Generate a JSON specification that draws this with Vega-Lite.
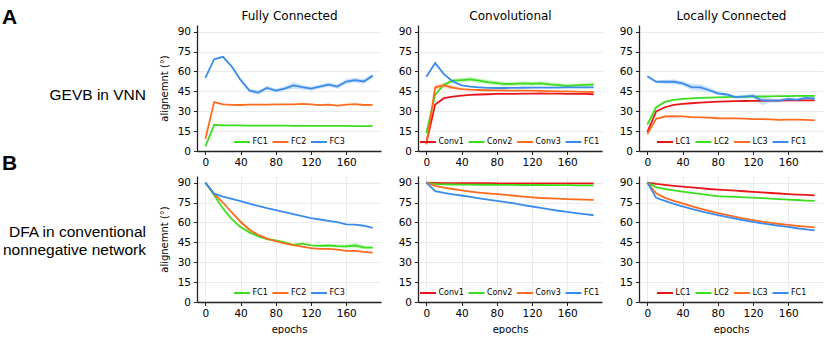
{
"$schema": "https://vega.github.io/schema/vega-lite/v6.json",
"background": "white",
"padding": {"left": 0, "top": 6, "right": 0, "bottom": 0},
"datasets": {
"aFC": [
{"e":0,"FC1":3.5,"FC2":9,"FC3":55.2},{"e":10,"FC1":19.7,"FC2":36.9,"FC3":69.2},{"e":20,"FC1":19.4,"FC2":35.1,"FC3":71},{"e":30,"FC1":19.3,"FC2":34.8,"FC3":63.7},{"e":40,"FC1":19.3,"FC2":34.7,"FC3":53.6},{"e":50,"FC1":19.2,"FC2":35,"FC3":45.6},{"e":60,"FC1":19.2,"FC2":35,"FC3":44.1},{"e":70,"FC1":19.2,"FC2":35,"FC3":47.6},{"e":80,"FC1":19.1,"FC2":35.1,"FC3":45.6},{"e":90,"FC1":19.1,"FC2":35.1,"FC3":47.1},{"e":100,"FC1":19,"FC2":35.1,"FC3":49.4},{"e":110,"FC1":19,"FC2":35.6,"FC3":48.1},{"e":120,"FC1":19,"FC2":35.2,"FC3":47.1},{"e":130,"FC1":18.9,"FC2":34.6,"FC3":48.6},{"e":140,"FC1":18.9,"FC2":34.9,"FC3":50.1},{"e":150,"FC1":18.9,"FC2":34.2,"FC3":48.6},{"e":160,"FC1":18.9,"FC2":34.9,"FC3":52.4},{"e":170,"FC1":18.8,"FC2":35.3,"FC3":53.4},{"e":180,"FC1":18.8,"FC2":34.7,"FC3":52.4},{"e":190,"FC1":18.8,"FC2":34.8,"FC3":56.7}],
"aFCb": [
{"e":0,"s":"FC3","lo":54.5,"hi":56},{"e":10,"s":"FC3","lo":68.5,"hi":70},{"e":20,"s":"FC3","lo":70.2,"hi":71.8},{"e":30,"s":"FC3","lo":62.8,"hi":64.6},{"e":40,"s":"FC3","lo":52.5,"hi":54.8},{"e":50,"s":"FC3","lo":44,"hi":47.2},{"e":60,"s":"FC3","lo":42.4,"hi":45.8},{"e":70,"s":"FC3","lo":46,"hi":49.2},{"e":80,"s":"FC3","lo":44.2,"hi":47},{"e":90,"s":"FC3","lo":45.5,"hi":48.7},{"e":100,"s":"FC3","lo":47,"hi":51.8},{"e":110,"s":"FC3","lo":46.2,"hi":50},{"e":120,"s":"FC3","lo":45.5,"hi":48.7},{"e":130,"s":"FC3","lo":47,"hi":50.2},{"e":140,"s":"FC3","lo":48.4,"hi":51.8},{"e":150,"s":"FC3","lo":47,"hi":50.2},{"e":160,"s":"FC3","lo":50.6,"hi":54.2},{"e":170,"s":"FC3","lo":51.6,"hi":55.2},{"e":180,"s":"FC3","lo":50.6,"hi":54.2},{"e":190,"s":"FC3","lo":55,"hi":58.4}],
"aConv": [
{"e":0,"Conv1":6,"Conv2":13.5,"Conv3":5,"FC1":56},{"e":10,"Conv1":35,"Conv2":42.5,"Conv3":48,"FC1":66.3},{"e":20,"Conv1":39.8,"Conv2":50,"Conv3":49.5,"FC1":58},{"e":30,"Conv1":41,"Conv2":53,"Conv3":47.8,"FC1":52.5},{"e":40,"Conv1":41.8,"Conv2":53.5,"Conv3":46.7,"FC1":49.5},{"e":50,"Conv1":42.3,"Conv2":54,"Conv3":46.2,"FC1":48.5},{"e":60,"Conv1":42.6,"Conv2":53,"Conv3":46,"FC1":48},{"e":70,"Conv1":42.8,"Conv2":52,"Conv3":45.8,"FC1":47.6},{"e":80,"Conv1":43,"Conv2":51.2,"Conv3":45.7,"FC1":47.5},{"e":90,"Conv1":43,"Conv2":50.5,"Conv3":45.6,"FC1":47.5},{"e":100,"Conv1":43,"Conv2":50.6,"Conv3":45.5,"FC1":47.6},{"e":110,"Conv1":43.2,"Conv2":51,"Conv3":45.5,"FC1":47.7},{"e":120,"Conv1":43.3,"Conv2":50.7,"Conv3":45.5,"FC1":47.8},{"e":130,"Conv1":43.5,"Conv2":51,"Conv3":45.3,"FC1":47.8},{"e":140,"Conv1":43.3,"Conv2":50.2,"Conv3":45.2,"FC1":47.8},{"e":150,"Conv1":43.2,"Conv2":49.6,"Conv3":45,"FC1":47.8},{"e":160,"Conv1":43.1,"Conv2":49,"Conv3":45,"FC1":47.9},{"e":170,"Conv1":43,"Conv2":49.5,"Conv3":44.8,"FC1":48},{"e":180,"Conv1":43,"Conv2":49.8,"Conv3":44.6,"FC1":48},{"e":190,"Conv1":42.8,"Conv2":50,"Conv3":44.5,"FC1":48}],
"aConvb": [
{"e":20,"s":"Conv2","lo":48.8,"hi":51.2},{"e":30,"s":"Conv2","lo":51.5,"hi":54.5},{"e":40,"s":"Conv2","lo":51.8,"hi":55.2},{"e":50,"s":"Conv2","lo":52.2,"hi":55.8},{"e":60,"s":"Conv2","lo":51.3,"hi":54.7},{"e":70,"s":"Conv2","lo":50.3,"hi":53.7},{"e":80,"s":"Conv2","lo":49.6,"hi":52.8},{"e":90,"s":"Conv2","lo":48.9,"hi":52.1},{"e":100,"s":"Conv2","lo":49,"hi":52.2},{"e":110,"s":"Conv2","lo":49.4,"hi":52.6},{"e":120,"s":"Conv2","lo":49.1,"hi":52.3},{"e":130,"s":"Conv2","lo":49.4,"hi":52.6},{"e":140,"s":"Conv2","lo":48.6,"hi":51.8},{"e":150,"s":"Conv2","lo":48,"hi":51.2},{"e":160,"s":"Conv2","lo":47.4,"hi":50.6},{"e":170,"s":"Conv2","lo":47.9,"hi":51.1},{"e":180,"s":"Conv2","lo":48.2,"hi":51.4},{"e":190,"s":"Conv2","lo":48.4,"hi":51.6},
{"e":10,"s":"Conv3","lo":46,"hi":50},{"e":20,"s":"Conv3","lo":47.5,"hi":51.5},{"e":30,"s":"Conv3","lo":46.5,"hi":49},{"e":40,"s":"Conv3","lo":45.8,"hi":47.6}],
"aLC": [
{"e":0,"LC1":14.5,"LC2":20,"LC3":12.8,"FC1":56.4},{"e":10,"LC1":29.8,"LC2":33,"LC3":24.3,"FC1":52.2},{"e":20,"LC1":33,"LC2":37,"LC3":26,"FC1":52.2},{"e":30,"LC1":34.8,"LC2":38.5,"LC3":26.3,"FC1":52.2},{"e":40,"LC1":35.5,"LC2":39.3,"LC3":26.1,"FC1":51},{"e":50,"LC1":36,"LC2":39.7,"LC3":25.6,"FC1":48.2},{"e":60,"LC1":36.5,"LC2":40,"LC3":25.4,"FC1":47.9},{"e":70,"LC1":36.9,"LC2":40.2,"LC3":25.1,"FC1":46},{"e":80,"LC1":37.2,"LC2":40.4,"LC3":24.7,"FC1":43.5},{"e":90,"LC1":37.4,"LC2":40.6,"LC3":24.6,"FC1":42.6},{"e":100,"LC1":37.6,"LC2":40.8,"LC3":24.6,"FC1":40.6},{"e":110,"LC1":37.7,"LC2":40.9,"LC3":24.4,"FC1":41},{"e":120,"LC1":37.8,"LC2":41,"LC3":24.1,"FC1":41.5},{"e":130,"LC1":37.9,"LC2":41.1,"LC3":24,"FC1":38.1},{"e":140,"LC1":38,"LC2":41.2,"LC3":23.8,"FC1":38},{"e":150,"LC1":38,"LC2":41.3,"LC3":23.4,"FC1":38},{"e":160,"LC1":38.1,"LC2":41.4,"LC3":23.6,"FC1":39.2},{"e":170,"LC1":38.1,"LC2":41.5,"LC3":23.6,"FC1":38.6},{"e":180,"LC1":38.2,"LC2":41.5,"LC3":23.4,"FC1":40},{"e":190,"LC1":38.2,"LC2":41.6,"LC3":23.1,"FC1":39.6}],
"aLCb": [
{"e":0,"s":"FC1","lo":55.8,"hi":57},{"e":10,"s":"FC1","lo":51.4,"hi":53},{"e":20,"s":"FC1","lo":50.6,"hi":53.8},{"e":30,"s":"FC1","lo":50.4,"hi":54},{"e":40,"s":"FC1","lo":49.2,"hi":52.8},{"e":50,"s":"FC1","lo":45.8,"hi":50.6},{"e":60,"s":"FC1","lo":45.5,"hi":50.3},{"e":70,"s":"FC1","lo":44.2,"hi":47.8},{"e":80,"s":"FC1","lo":42.2,"hi":44.8},{"e":90,"s":"FC1","lo":41.3,"hi":43.9},{"e":100,"s":"FC1","lo":39.4,"hi":41.8},{"e":110,"s":"FC1","lo":39.5,"hi":42.5},{"e":120,"s":"FC1","lo":39.8,"hi":43.2},{"e":130,"s":"FC1","lo":34.5,"hi":41.7},{"e":140,"s":"FC1","lo":36.5,"hi":39.5},{"e":150,"s":"FC1","lo":36.6,"hi":39.4},{"e":160,"s":"FC1","lo":37.8,"hi":40.6},{"e":170,"s":"FC1","lo":37,"hi":40.2},{"e":180,"s":"FC1","lo":38.3,"hi":41.7},{"e":190,"s":"FC1","lo":38,"hi":41.2}],
"bFC": [
{"e":0,"FC1":90,"FC2":90,"FC3":90},{"e":10,"FC1":80.5,"FC2":81.5,"FC3":81.7},{"e":20,"FC1":70.5,"FC2":75,"FC3":79.5},{"e":30,"FC1":62.5,"FC2":67.5,"FC3":77.7},{"e":40,"FC1":56.6,"FC2":60.5,"FC3":76},{"e":50,"FC1":52.5,"FC2":54.5,"FC3":74.2},{"e":60,"FC1":49.5,"FC2":50.5,"FC3":72.4},{"e":70,"FC1":47.5,"FC2":47.8,"FC3":70.8},{"e":80,"FC1":46.5,"FC2":45.8,"FC3":69.3},{"e":90,"FC1":45,"FC2":44.2,"FC3":67.7},{"e":100,"FC1":43,"FC2":42.8,"FC3":66.2},{"e":110,"FC1":44,"FC2":41.8,"FC3":64.8},{"e":120,"FC1":42.7,"FC2":40.6,"FC3":63.3},{"e":130,"FC1":42.3,"FC2":40.1,"FC3":62.2},{"e":140,"FC1":42.6,"FC2":40,"FC3":61.2},{"e":150,"FC1":42.1,"FC2":39.5,"FC3":60.3},{"e":160,"FC1":42,"FC2":38.6,"FC3":58.6},{"e":170,"FC1":42.6,"FC2":38.6,"FC3":58.4},{"e":180,"FC1":41.2,"FC2":37.8,"FC3":57.5},{"e":190,"FC1":41,"FC2":37.3,"FC3":55.8}],
"bFCb": [
{"e":130,"s":"FC1","lo":41.3,"hi":43.3},{"e":140,"s":"FC1","lo":41.4,"hi":43.8},{"e":150,"s":"FC1","lo":40.9,"hi":43.3},{"e":160,"s":"FC1","lo":40.5,"hi":43.5},{"e":170,"s":"FC1","lo":40.6,"hi":44.6},{"e":180,"s":"FC1","lo":39.8,"hi":42.6},{"e":190,"s":"FC1","lo":39.9,"hi":42.1},
{"e":30,"s":"FC2","lo":66.5,"hi":68.5},{"e":40,"s":"FC2","lo":59.3,"hi":61.7},{"e":50,"s":"FC2","lo":53.2,"hi":55.8},{"e":60,"s":"FC2","lo":49.2,"hi":51.8},{"e":70,"s":"FC2","lo":46.8,"hi":48.8},{"e":80,"s":"FC2","lo":45,"hi":46.6}],
"bConv": [
{"e":0,"Conv1":90,"Conv2":90,"Conv3":90,"FC1":90},{"e":10,"Conv1":89.8,"Conv2":88.9,"Conv3":87.6,"FC1":83.6},{"e":20,"Conv1":89.7,"Conv2":88.7,"Conv3":86.3,"FC1":82.2},{"e":30,"Conv1":89.7,"Conv2":88.6,"Conv3":85.2,"FC1":81.2},{"e":40,"Conv1":89.6,"Conv2":88.5,"Conv3":84.2,"FC1":80.3},{"e":50,"Conv1":89.6,"Conv2":88.5,"Conv3":83.3,"FC1":79.2},{"e":60,"Conv1":89.6,"Conv2":88.4,"Conv3":82.5,"FC1":78.2},{"e":70,"Conv1":89.6,"Conv2":88.4,"Conv3":81.9,"FC1":77.2},{"e":80,"Conv1":89.5,"Conv2":88.3,"Conv3":81.4,"FC1":76.3},{"e":90,"Conv1":89.5,"Conv2":88.3,"Conv3":80.7,"FC1":75.3},{"e":100,"Conv1":89.5,"Conv2":88.3,"Conv3":80.1,"FC1":74.3},{"e":110,"Conv1":89.5,"Conv2":88.2,"Conv3":79.5,"FC1":73.1},{"e":120,"Conv1":89.5,"Conv2":88.2,"Conv3":78.9,"FC1":72},{"e":130,"Conv1":89.5,"Conv2":88.2,"Conv3":78.4,"FC1":70.9},{"e":140,"Conv1":89.5,"Conv2":88.1,"Conv3":78.1,"FC1":69.8},{"e":150,"Conv1":89.5,"Conv2":88.1,"Conv3":77.9,"FC1":68.8},{"e":160,"Conv1":89.5,"Conv2":88.1,"Conv3":77.6,"FC1":67.9},{"e":170,"Conv1":89.5,"Conv2":88,"Conv3":77.4,"FC1":67},{"e":180,"Conv1":89.5,"Conv2":88,"Conv3":77.2,"FC1":66.2},{"e":190,"Conv1":89.5,"Conv2":88,"Conv3":77,"FC1":65.4}],
"bLC": [
{"e":0,"LC1":90,"LC2":90,"LC3":90,"FC1":90},{"e":10,"LC1":89,"LC2":86.6,"LC3":82,"FC1":78.5},{"e":20,"LC1":88.3,"LC2":85.2,"LC3":78.5,"FC1":76.2},{"e":30,"LC1":87.6,"LC2":84.1,"LC3":76.2,"FC1":74},{"e":40,"LC1":87,"LC2":83.2,"LC3":74.3,"FC1":72.1},{"e":50,"LC1":86.4,"LC2":82.3,"LC3":72.3,"FC1":70.3},{"e":60,"LC1":85.8,"LC2":81.5,"LC3":70.4,"FC1":68.6},{"e":70,"LC1":85.2,"LC2":80.6,"LC3":68.7,"FC1":67},{"e":80,"LC1":84.7,"LC2":79.9,"LC3":67.1,"FC1":65.5},{"e":90,"LC1":84.3,"LC2":79.5,"LC3":65.6,"FC1":64.1},{"e":100,"LC1":83.9,"LC2":79.2,"LC3":64.2,"FC1":62.8},{"e":110,"LC1":83.5,"LC2":78.9,"LC3":62.9,"FC1":61.6},{"e":120,"LC1":83,"LC2":78.7,"LC3":61.7,"FC1":60.4},{"e":130,"LC1":82.6,"LC2":78.3,"LC3":60.6,"FC1":59.3},{"e":140,"LC1":82.2,"LC2":78,"LC3":59.6,"FC1":58.3},{"e":150,"LC1":81.8,"LC2":77.6,"LC3":58.8,"FC1":57.4},{"e":160,"LC1":81.4,"LC2":77.2,"LC3":58.1,"FC1":56.6},{"e":170,"LC1":81,"LC2":76.9,"LC3":57.4,"FC1":55.6},{"e":180,"LC1":80.7,"LC2":76.5,"LC3":56.8,"FC1":54.8},{"e":190,"LC1":80.4,"LC2":76.2,"LC3":56.3,"FC1":54}]
},
"concat": [
{"width": 160, "height": 126,
 "title": {"text": "A", "anchor": "start", "frame": "group", "font": "Liberation Sans", "fontSize": 21, "fontWeight": "bold", "baseline": "alphabetic", "offset": -19.5, "dx": 2},
 "data": {"values": [{"label": "GEVB in VNN"}]},
 "mark": {"type": "text", "align": "right", "baseline": "middle", "font": "Liberation Sans", "fontSize": 15.5, "dx": -14, "dy": 7, "color": "#000"},
 "encoding": {"text": {"field": "label", "type": "nominal"}, "x": {"value": "width"}}},
{"width": 184, "height": 126,
 "layer": [
  {"data": {"name": "aFCb"}, "transform": [{"filter": "datum.s == 'FC3'"}], "mark": {"type": "area", "color": "#3a8cec", "fillOpacity": 0.25},
   "encoding": {"x": {"field": "e", "type": "quantitative", "scale": {"domain": [-9.5, 199.5], "nice": false, "zero": false}, "axis": {"orient": "top", "title": "Fully Connected", "labels": false, "ticks": false, "domain": false, "grid": false, "titleFontSize": 12, "titleBaseline": "alphabetic", "titlePadding": 6}},
    "y": {"field": "lo", "type": "quantitative", "scale": {"domain": [0, 95], "nice": false}, "axis": {"values": [0, 15, 30, 45, 60, 75, 90], "title": "alignemnt (°)"}}, "y2": {"field": "hi"}}},
  {"data": {"name": "aFC"}, "transform": [{"fold": ["FC1", "FC2", "FC3"], "as": ["s", "v"]}], "mark": {"type": "line", "strokeWidth": 1.8},
   "encoding": {"x": {"field": "e", "type": "quantitative", "scale": {"domain": [-9.5, 199.5], "nice": false, "zero": false}, "axis": {"values": [0, 40, 80, 120, 160], "title": null}},
    "y": {"field": "v", "type": "quantitative", "scale": {"domain": [0, 95], "nice": false}, "axis": {"values": [0, 15, 30, 45, 60, 75, 90], "title": "alignemnt (°)"}},
    "color": {"field": "s", "type": "nominal", "scale": {"domain": ["FC1", "FC2", "FC3"], "range": ["#3cdc1e", "#ff6a1e", "#3a8cec"]}, "legend": {"title": null, "orient": "none", "legendX": 36, "legendY": 108, "direction": "horizontal", "columns": 3}}}}
 ],
 "resolve": {"axis": {"x": "independent"}}},
{"width": 184, "height": 126,
 "layer": [
  {"data": {"name": "aConvb"}, "transform": [{"filter": "datum.s == 'Conv2'"}], "mark": {"type": "area", "color": "#3cdc1e", "fillOpacity": 0.25},
   "encoding": {"x": {"field": "e", "type": "quantitative", "scale": {"domain": [-9.5, 199.5], "nice": false, "zero": false}, "axis": {"orient": "top", "title": "Convolutional", "labels": false, "ticks": false, "domain": false, "grid": false, "titleFontSize": 12, "titleBaseline": "alphabetic", "titlePadding": 6}},
    "y": {"field": "lo", "type": "quantitative", "scale": {"domain": [0, 95], "nice": false}, "axis": {"values": [0, 15, 30, 45, 60, 75, 90], "title": null}}, "y2": {"field": "hi"}}},
  {"data": {"name": "aConvb"}, "transform": [{"filter": "datum.s == 'Conv3'"}], "mark": {"type": "area", "color": "#ff6a1e", "fillOpacity": 0.25},
   "encoding": {"x": {"field": "e", "type": "quantitative", "scale": {"domain": [-9.5, 199.5], "nice": false, "zero": false}, "axis": null},
    "y": {"field": "lo", "type": "quantitative", "scale": {"domain": [0, 95], "nice": false}, "axis": {"values": [0, 15, 30, 45, 60, 75, 90], "title": null}}, "y2": {"field": "hi"}}},
  {"data": {"name": "aConv"}, "transform": [{"fold": ["Conv1", "Conv2", "Conv3", "FC1"], "as": ["s", "v"]}], "mark": {"type": "line", "strokeWidth": 1.8},
   "encoding": {"x": {"field": "e", "type": "quantitative", "scale": {"domain": [-9.5, 199.5], "nice": false, "zero": false}, "axis": {"values": [0, 40, 80, 120, 160], "title": null}},
    "y": {"field": "v", "type": "quantitative", "scale": {"domain": [0, 95], "nice": false}, "axis": {"values": [0, 15, 30, 45, 60, 75, 90], "title": null}},
    "color": {"field": "s", "type": "nominal", "scale": {"domain": ["Conv1", "Conv2", "Conv3", "FC1"], "range": ["#e8161b", "#3cdc1e", "#ff6a1e", "#3a8cec"]}, "legend": {"title": null, "orient": "none", "legendX": 1, "legendY": 108, "direction": "horizontal", "columns": 4}}}}
 ],
 "resolve": {"axis": {"x": "independent"}}},
{"width": 184, "height": 126,
 "layer": [
  {"data": {"name": "aLCb"}, "transform": [{"filter": "datum.s == 'FC1'"}], "mark": {"type": "area", "color": "#3a8cec", "fillOpacity": 0.25},
   "encoding": {"x": {"field": "e", "type": "quantitative", "scale": {"domain": [-9.5, 199.5], "nice": false, "zero": false}, "axis": {"orient": "top", "title": "Locally Connected", "labels": false, "ticks": false, "domain": false, "grid": false, "titleFontSize": 12, "titleBaseline": "alphabetic", "titlePadding": 6}},
    "y": {"field": "lo", "type": "quantitative", "scale": {"domain": [0, 95], "nice": false}, "axis": {"values": [0, 15, 30, 45, 60, 75, 90], "title": null}}, "y2": {"field": "hi"}}},
  {"data": {"name": "aLC"}, "transform": [{"fold": ["LC1", "LC2", "LC3", "FC1"], "as": ["s", "v"]}], "mark": {"type": "line", "strokeWidth": 1.8},
   "encoding": {"x": {"field": "e", "type": "quantitative", "scale": {"domain": [-9.5, 199.5], "nice": false, "zero": false}, "axis": {"values": [0, 40, 80, 120, 160], "title": null}},
    "y": {"field": "v", "type": "quantitative", "scale": {"domain": [0, 95], "nice": false}, "axis": {"values": [0, 15, 30, 45, 60, 75, 90], "title": null}},
    "color": {"field": "s", "type": "nominal", "scale": {"domain": ["LC1", "LC2", "LC3", "FC1"], "range": ["#e8161b", "#3cdc1e", "#ff6a1e", "#3a8cec"]}, "legend": {"title": null, "orient": "none", "legendX": 17, "legendY": 108, "direction": "horizontal", "columns": 4}}}}
 ],
 "resolve": {"axis": {"x": "independent"}}},
{"width": 160, "height": 126,
 "title": {"text": "B", "anchor": "start", "frame": "group", "font": "Liberation Sans", "fontSize": 21, "fontWeight": "bold", "baseline": "alphabetic", "offset": -15, "dx": 2},
 "data": {"values": [{"label": "DFA in conventional\nnonnegative network"}]},
 "mark": {"type": "text", "align": "right", "baseline": "middle", "font": "Liberation Sans", "fontSize": 15.5, "dx": -14, "dy": -7, "lineHeight": 18, "lineBreak": "\n", "color": "#000"},
 "encoding": {"text": {"field": "label", "type": "nominal"}, "x": {"value": "width"}}},
{"width": 184, "height": 126,
 "layer": [
  {"data": {"name": "bFCb"}, "transform": [{"filter": "datum.s == 'FC1'"}], "mark": {"type": "area", "color": "#3cdc1e", "fillOpacity": 0.25},
   "encoding": {"x": {"field": "e", "type": "quantitative", "scale": {"domain": [-9.5, 199.5], "nice": false, "zero": false}, "axis": {"values": [0, 40, 80, 120, 160], "title": "epochs"}},
    "y": {"field": "lo", "type": "quantitative", "scale": {"domain": [0, 95], "nice": false}, "axis": {"values": [0, 15, 30, 45, 60, 75, 90], "title": "alignemnt (°)"}}, "y2": {"field": "hi"}}},
  {"data": {"name": "bFCb"}, "transform": [{"filter": "datum.s == 'FC2'"}], "mark": {"type": "area", "color": "#ff6a1e", "fillOpacity": 0.25},
   "encoding": {"x": {"field": "e", "type": "quantitative", "scale": {"domain": [-9.5, 199.5], "nice": false, "zero": false}, "axis": {"values": [0, 40, 80, 120, 160], "title": "epochs"}},
    "y": {"field": "lo", "type": "quantitative", "scale": {"domain": [0, 95], "nice": false}, "axis": {"values": [0, 15, 30, 45, 60, 75, 90], "title": "alignemnt (°)"}}, "y2": {"field": "hi"}}},
  {"data": {"name": "bFC"}, "transform": [{"fold": ["FC1", "FC2", "FC3"], "as": ["s", "v"]}], "mark": {"type": "line", "strokeWidth": 1.8},
   "encoding": {"x": {"field": "e", "type": "quantitative", "scale": {"domain": [-9.5, 199.5], "nice": false, "zero": false}, "axis": {"values": [0, 40, 80, 120, 160], "title": "epochs"}},
    "y": {"field": "v", "type": "quantitative", "scale": {"domain": [0, 95], "nice": false}, "axis": {"values": [0, 15, 30, 45, 60, 75, 90], "title": "alignemnt (°)"}},
    "color": {"field": "s", "type": "nominal", "scale": {"domain": ["FC1", "FC2", "FC3"], "range": ["#3cdc1e", "#ff6a1e", "#3a8cec"]}, "legend": {"title": null, "orient": "none", "legendX": 36, "legendY": 108, "direction": "horizontal", "columns": 3}}}}
 ]},
{"width": 184, "height": 126,
 "data": {"name": "bConv"}, "transform": [{"fold": ["Conv1", "Conv2", "Conv3", "FC1"], "as": ["s", "v"]}], "mark": {"type": "line", "strokeWidth": 1.8},
 "encoding": {"x": {"field": "e", "type": "quantitative", "scale": {"domain": [-9.5, 199.5], "nice": false, "zero": false}, "axis": {"values": [0, 40, 80, 120, 160], "title": "epochs"}},
  "y": {"field": "v", "type": "quantitative", "scale": {"domain": [0, 95], "nice": false}, "axis": {"values": [0, 15, 30, 45, 60, 75, 90], "title": null}},
  "color": {"field": "s", "type": "nominal", "scale": {"domain": ["Conv1", "Conv2", "Conv3", "FC1"], "range": ["#e8161b", "#3cdc1e", "#ff6a1e", "#3a8cec"]}, "legend": {"title": null, "orient": "none", "legendX": 1, "legendY": 108, "direction": "horizontal", "columns": 4}}}},
{"width": 184, "height": 126,
 "data": {"name": "bLC"}, "transform": [{"fold": ["LC1", "LC2", "LC3", "FC1"], "as": ["s", "v"]}], "mark": {"type": "line", "strokeWidth": 1.8},
 "encoding": {"x": {"field": "e", "type": "quantitative", "scale": {"domain": [-9.5, 199.5], "nice": false, "zero": false}, "axis": {"values": [0, 40, 80, 120, 160], "title": "epochs"}},
  "y": {"field": "v", "type": "quantitative", "scale": {"domain": [0, 95], "nice": false}, "axis": {"values": [0, 15, 30, 45, 60, 75, 90], "title": null}},
  "color": {"field": "s", "type": "nominal", "scale": {"domain": ["LC1", "LC2", "LC3", "FC1"], "range": ["#e8161b", "#3cdc1e", "#ff6a1e", "#3a8cec"]}, "legend": {"title": null, "orient": "none", "legendX": 17, "legendY": 108, "direction": "horizontal", "columns": 4}}}}
],
"columns": 4,
"spacing": {"row": 25, "column": 37},
"bounds": "flush",
"resolve": {"scale": {"color": "independent", "x": "independent", "y": "independent"}, "legend": {"color": "independent"}, "axis": {"x": "independent", "y": "independent"}},
"config": {
 "view": {"stroke": null},
 "font": "DejaVu Sans",
 "title": {"font": "DejaVu Sans", "fontSize": 12, "fontWeight": "normal", "color": "#000", "baseline": "alphabetic", "offset": 6, "frame": "group"},
 "axis": {"labelFont": "DejaVu Sans", "labelFontSize": 10.5, "labelColor": "#000", "titleFont": "DejaVu Sans", "titleFontSize": 10, "titleFontWeight": "normal", "titleColor": "#000", "domainColor": "#222", "domainWidth": 1.3, "tickColor": "#222", "tickSize": 3.5, "tickWidth": 1, "gridColor": "#ebebeb", "gridWidth": 1, "labelPadding": 3, "titlePadding": 5},
 "axisY": {"titlePadding": 8},
 "legend": {"symbolType": "stroke", "symbolSize": 256, "symbolStrokeWidth": 2, "labelFont": "DejaVu Sans", "labelFontSize": 8, "labelColor": "#000", "labelOffset": 1.5, "columnPadding": 0.5, "padding": 0, "rowPadding": 0}
}
}
